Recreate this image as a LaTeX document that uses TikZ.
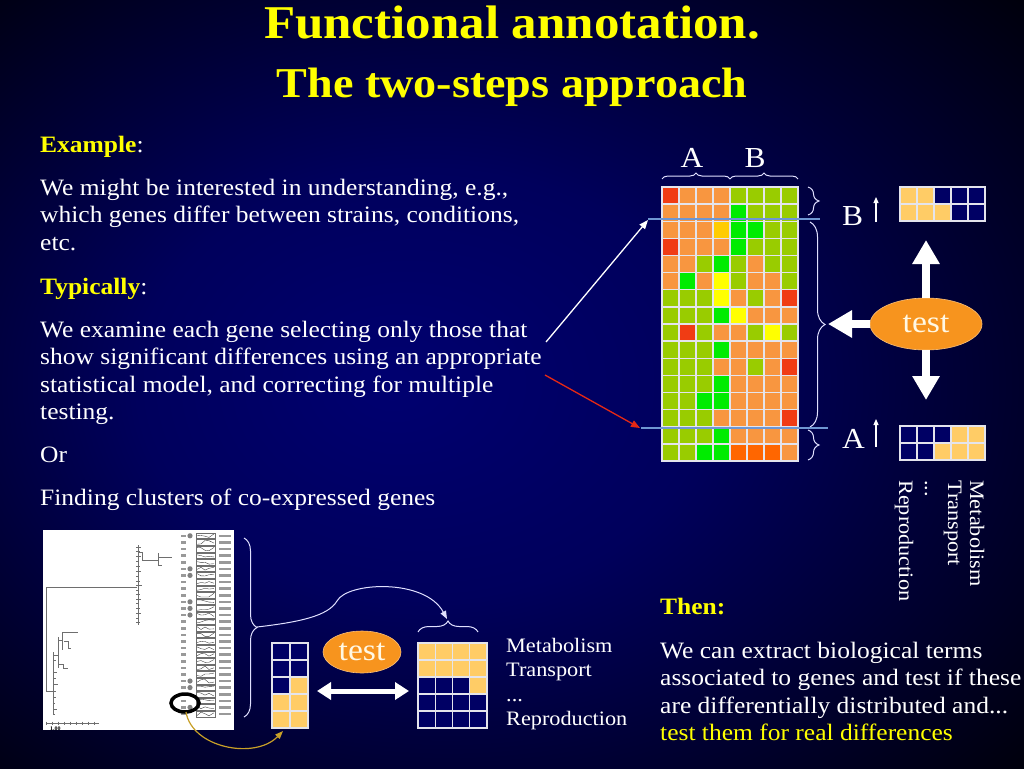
\documentclass[tikz,border=0pt]{standalone}
\usepackage{fontspec}
\setmainfont{Liberation Serif}[FakeStretch=1.085]
\usetikzlibrary{arrows.meta,decorations.pathreplacing,shapes.geometric}
\definecolor{bgA}{RGB}{0,0,112}
\definecolor{bgB}{RGB}{0,0,92}
\definecolor{ytext}{RGB}{255,255,0}
\definecolor{hR}{RGB}{240,60,20}
\definecolor{hO}{RGB}{248,150,64}
\definecolor{hG}{RGB}{153,204,0}
\definecolor{hL}{RGB}{0,236,0}
\definecolor{hY}{RGB}{255,255,0}
\definecolor{hK}{RGB}{255,204,0}
\definecolor{hD}{RGB}{255,102,0}
\definecolor{sO}{RGB}{255,204,102}
\definecolor{sN}{RGB}{0,0,100}
\definecolor{gridc}{RGB}{228,228,236}
\definecolor{hlinec}{RGB}{110,150,210}
\definecolor{testc}{RGB}{247,148,30}
\definecolor{testt}{RGB}{255,248,228}
\definecolor{redarr}{RGB}{230,40,20}
\definecolor{goldarr}{RGB}{200,160,40}
\definecolor{dendc}{RGB}{110,110,110}
\pgfdeclareradialshading{bgshade}{\pgfpoint{-6bp}{0bp}}{color(0bp)=(bgA); color(14bp)=(bgB); color(40bp)=(black); color(50bp)=(black)}
\newcommand{\drawcells}[6]{%
  \foreach \rr [count=\ri from 0] in {#6} {
    \foreach \cc [count=\ci from 0] in \rr {
      \filldraw[fill=#5\cc, draw=gridc, line width=1.3pt] ({#1+#3*\ci},{#2+#4*\ri}) rectangle ++(#3,#4);
    }
  }}
\begin{document}
\begin{tikzpicture}[x=1pt,y=-1pt,
  body/.style={anchor=base west, inner sep=0pt, text=white, font=\fontsize{23.5}{27.5}\selectfont},
  small/.style={anchor=base west, inner sep=0pt, text=white, font=\fontsize{20.5}{24}\selectfont},
  rot/.style={anchor=base west, inner sep=0pt, text=white, rotate=-90, font=\fontsize{20.5}{24}\selectfont},
  lab/.style={anchor=base, inner sep=0pt, text=white, font=\fontsize{29}{32}\selectfont},
  ttl/.style={anchor=base, inner sep=0pt, text=ytext},
  bracew/.style={decorate, decoration={brace, amplitude=#1}, draw=white!88!blue, line width=1pt},
  hline/.style={draw=hlinec, line width=1.2pt},
  testell/.style={ellipse, fill=testc, draw=testc!60!white, line width=0.6pt, inner sep=0pt, text=testt, font=\fontsize{31}{34}\selectfont},
  bigarrow/.style={draw=white, line width=8pt, -{Triangle[length=24pt,width=26pt]}},
  midarrow/.style={draw=white, line width=5pt, {Triangle[length=14pt,width=17pt]}-{Triangle[length=14pt,width=17pt]}},
  thinw/.style={draw=white, line width=1.3pt, -{Triangle[length=9pt,width=7pt]}},
  thinr/.style={draw=redarr, line width=1.3pt, -{Triangle[length=9pt,width=7pt]}},
  tinyup/.style={draw=white, line width=1.2pt, -{Triangle[length=6pt,width=5pt]}},
  goldarrow/.style={draw=goldarr, line width=1.2pt, -{Triangle[length=8pt,width=6pt]}},
  conn/.style={draw=white!88!blue, line width=1pt, -{Triangle[length=8pt,width=6pt]}},
  dend/.style={draw=dendc, line width=0.7pt}
]
\useasboundingbox (0,0) rectangle (1024,768);
\shade[shading=bgshade] (0,0) rectangle (1024,768);

% ---- title ----
\node[ttl, font=\bfseries\fontsize{47}{50}\selectfont] (t1) at (512,39) {Functional annotation.};
\node[ttl, font=\bfseries\fontsize{42.5}{46}\selectfont] (t2) at (512,97) {The two-steps approach};

% ---- left text ----
\node[body] (ex) at (40,152) {\textcolor{ytext}{\bfseries Example}:};
\node[body] (p1a) at (40,195) {We might be interested in understanding, e.g.,};
\node[body] (p1b) at (40,222.5) {which genes differ between strains, conditions,};
\node[body] (p1c) at (40,250) {etc.};
\node[body] (ty) at (40,294) {\textcolor{ytext}{\bfseries Typically}:};
\node[body] (p2a) at (40,337) {We examine each gene selecting only those that};
\node[body] (p2b) at (40,364.5) {show significant differences using an appropriate};
\node[body] (p2c) at (40,392) {statistical model, and correcting for multiple};
\node[body] (p2d) at (40,419.5) {testing.};
\node[body] (orr) at (40,462) {Or};
\node[body] (fc) at (40,505) {Finding clusters of co-expressed genes};

% ---- heatmap ----
\drawcells{662}{187}{17}{17.125}{h}{{R,O,O,O,G,G,G,G},{O,O,O,O,L,G,G,G},{O,O,O,K,L,L,G,G},{R,O,O,O,L,G,G,G},{O,O,G,L,G,O,G,G},{O,L,O,Y,G,O,O,G},{G,G,G,Y,O,G,O,R},{G,G,G,L,Y,O,O,O},{G,R,G,O,O,G,Y,G},{G,G,G,L,O,O,O,O},{G,G,G,O,O,G,O,R},{G,G,G,L,O,O,O,O},{G,G,L,L,O,O,O,O},{G,G,G,O,O,O,O,R},{G,G,G,L,O,O,O,O},{G,G,L,L,D,D,D,O}}
\node[lab] (la) at (692,167) {A};
\node[lab] (lb) at (755,167) {B};
\draw[bracew=6] (662,179) -- (730,179);
\draw[bracew=6] (730,179) -- (798,179);
\draw[bracew=11] (808,187) -- (808,215);
\draw[bracew=15] (810,222) -- (810,427);
\draw[bracew=11] (808,430) -- (808,460);
\draw[hline] (648,219) -- (820,219);
\draw[hline] (641,428) -- (828,428);

% ---- arrows from text ----
\coordinate (wa) at (546,342);
\coordinate (wb) at (648,220);
\coordinate (ra) at (545,375);
\coordinate (rb) at (640,428);
\draw[thinw] (wa) -- (wb);
\draw[thinr] (ra) -- (rb);

% ---- right side test ----
\node[testell, minimum width=112pt, minimum height=52pt] (test1) at (926,324) {test};
\coordinate (upT) at (926,240);
\coordinate (dnT) at (926,400);
\coordinate (lfT) at (828,324);
\draw[bigarrow] (test1.north) -- (upT);
\draw[bigarrow] (test1.south) -- (dnT);
\draw[bigarrow] (test1.west) -- (lfT);

\node[lab, anchor=base west] (rb1) at (842,225) {B};
\coordinate (ub1) at (876,222);
\coordinate (ub2) at (876,197);
\draw[tinyup] (ub1) -- (ub2);
\drawcells{900}{187}{17}{17}{s}{{O,O,N,N,N},{O,O,O,N,N}}

\node[lab, anchor=base west] (ra1) at (842,448) {A};
\coordinate (ua1) at (876,447);
\coordinate (ua2) at (876,419);
\draw[tinyup] (ua1) -- (ua2);
\drawcells{900}{426}{17}{17}{s}{{N,N,N,O,O},{N,N,O,O,O}}

\node[rot] (rm) at (970,480) {Metabolism};
\node[rot] (rt) at (948,480) {Transport};
\node[rot] (rd) at (925,480) {...};
\node[rot] (rr) at (899,480) {Reproduction};

% ---- bottom right text ----
\node[body] (then) at (660,614) {\textcolor{ytext}{\bfseries Then:}};
\node[body] (q1) at (660,658) {We can extract biological terms};
\node[body] (q2) at (660,685.5) {associated to genes and test if these};
\node[body] (q3) at (660,713) {are differentially distributed and...};
\node[body, text=ytext] (q4) at (660,740.5) {test them for real differences};

% ---- dendrogram picture ----
\node[fill=white, inner sep=0pt, minimum width=191pt, minimum height=200pt, anchor=north west] (img) at (43,530) {};
\draw[dend] (137,587) -- (46,587) -- (46,691) -- (56,691);
\draw[dend] (138,545) -- (138,625);
\foreach \yy/\xx in {547/141,551/140,556/141,561/139,566/140,571/141,576/139,581/140,585/142,590/139,594/140,599/141,603/139,608/140,613/141,618/139,622/140}
  \draw[dend] (136,\yy) -- (\xx,\yy);
\draw[dend] (139,552) -- (142,552) -- (142,560) -- (158,560);
\draw[dend] (158,553) -- (158,565);
\draw[dend] (158,557) -- (172,557);
\draw[dend] (158,565) -- (162,565);
\draw[dend] (53,652) -- (53,715);
\draw[dend] (58,637) -- (58,668);
\draw[dend] (53,655) -- (58,655);
\draw[dend] (62,632) -- (78,632);
\draw[dend] (62,632) -- (62,650);
\draw[dend] (58,640) -- (62,640);
\draw[dend] (64,641) -- (68,641) -- (68,648) -- (71,648);
\draw[dend] (58,664) -- (63,664) -- (63,668) -- (68,668);
\foreach \yy/\xx in {660/56,672/57,678/56,684/58,697/56,703/55,709/57,714/55}
  \draw[dend] (53,\yy) -- (\xx,\yy);
\draw[dend] (46,723) -- (99,723);
\foreach \xx in {46,52,...,98} \draw[dend, line width=0.4pt] (\xx,721.5) -- (\xx,724.5);
\node[anchor=base west, inner sep=0pt, text=black, font=\bfseries\fontsize{5.5}{6}\selectfont] (scl) at (50,730) {1.00};
\pgfmathsetseed{12}
\foreach \i in {0,...,27} {
  \pgfmathsetmacro{\yy}{533+6.6*\i}
  \draw[dendc, line width=0.4pt] (196,\yy) rectangle ++(19,5.6);
  \pgfmathsetmacro{\pa}{\yy+0.8+4*rnd}
  \pgfmathsetmacro{\pb}{\yy+0.8+4*rnd}
  \pgfmathsetmacro{\pc}{\yy+0.8+4*rnd}
  \pgfmathsetmacro{\pd}{\yy+0.8+4*rnd}
  \pgfmathsetmacro{\pe}{\yy+0.8+4*rnd}
  \draw[black!80, line width=0.35pt] (197,\pa) -- (201,\pb) -- (205,\pc) -- (209,\pd) -- (214,\pe);
  \fill[gray!80] (219,\yy+1.6) rectangle ++(12,2.6);
  \fill[gray!80] (181,\yy+1.6) rectangle ++(5,2.6);
}
\foreach \i in {0,5,6,10,11,12,22,23,26}
  \fill[gray] (190,{533+6.6*\i+2.8}) circle (2.6pt);
\node[ellipse, draw=black, line width=3.5pt, minimum width=28pt, minimum height=18pt, inner sep=0pt] (circ) at (185,703) {};
\coordinate (gs) at (186,712);
\coordinate (lgb) at (283,731);
\draw[goldarrow] (gs) .. controls (192,748) and (255,760) .. (lgb);

% ---- bottom grids ----
\draw[bracew=13] (244,538) -- (244,717);
\coordinate (dtip) at (257,627);
\draw[bracew=11] (418,632) -- (478,632);
\coordinate (gbtip) at (447,619);
\draw[conn] (dtip) .. controls (300,622) and (328,616) .. (337,601) .. controls (347,582) and (425,578) .. (gbtip);

\drawcells{272}{643}{18}{17}{s}{{N,N},{N,N},{N,O},{O,O},{O,O}}
\drawcells{418}{643}{17.25}{17}{s}{{O,O,O,O},{O,O,O,O},{N,N,N,O},{N,N,N,N},{N,N,N,N}}
\node[testell, minimum width=78pt, minimum height=42pt] (test2) at (362,652) {test};
\coordinate (dl) at (317,691);
\coordinate (dr) at (409,691);
\draw[midarrow] (dl) -- (dr);

\node[small] (m1) at (506,652) {Metabolism};
\node[small] (m2) at (506,676) {Transport};
\node[small] (m3) at (506,701) {...};
\node[small] (m4) at (506,725) {Reproduction};
\end{tikzpicture}
\end{document}
